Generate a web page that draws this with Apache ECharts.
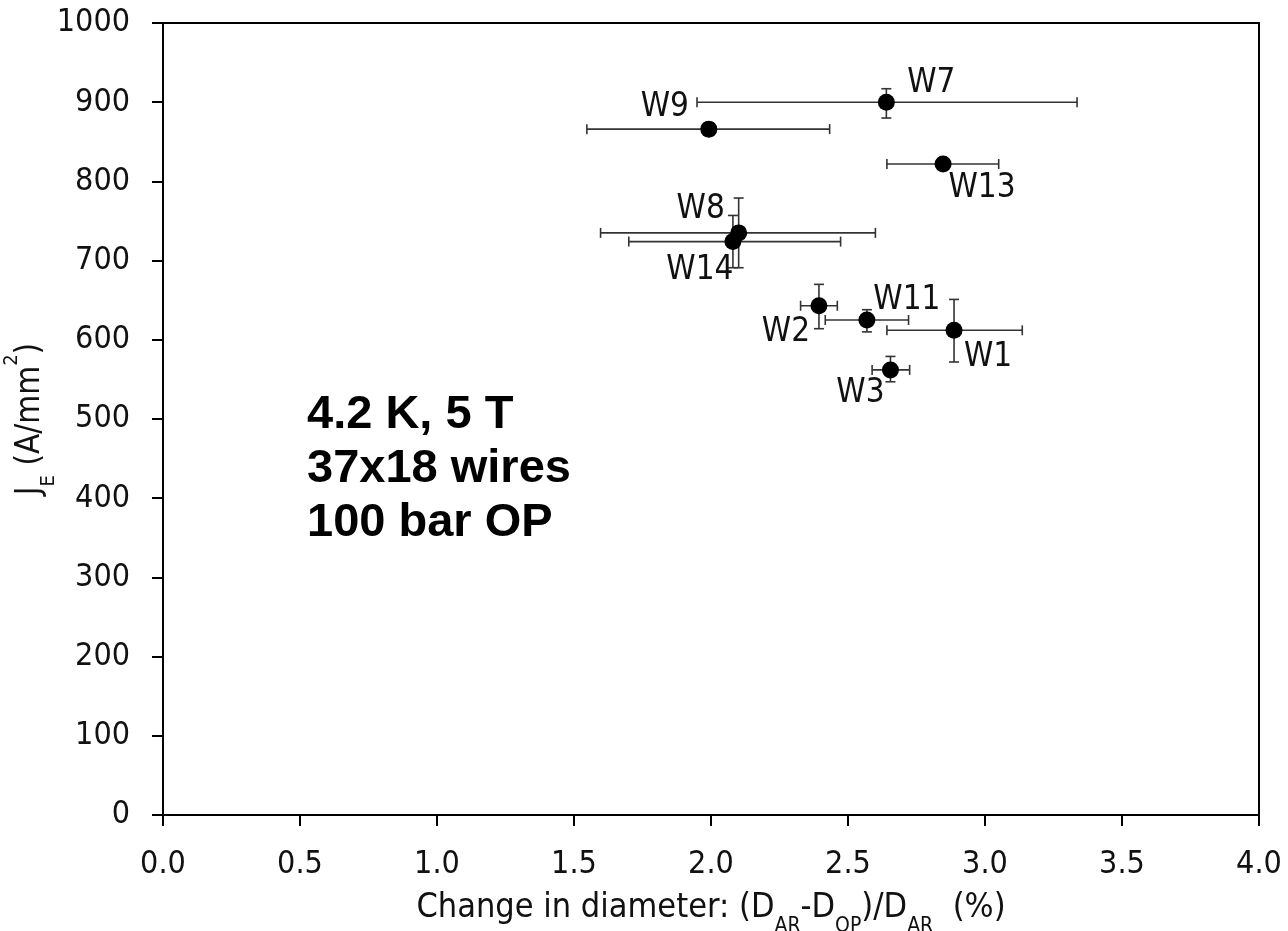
<!DOCTYPE html>
<html>
<head>
<meta charset="utf-8">
<script src="https://cdn.jsdelivr.net/npm/echarts@6/dist/echarts.min.js"></script>
<style>
  html, body { margin: 0; padding: 0; background: #fff; }
  #chart { width: 1288px; height: 931px; }
</style>
</head>
<body>
<div id="chart"></div>
<script>
// wire samples
const names = ['W1', 'W2', 'W3', 'W7', 'W8', 'W9', 'W11', 'W13', 'W14'];
// change in diameter (%)
const dia = [2.887, 2.394, 2.655, 2.640, 2.101, 1.992, 2.569, 2.847, 2.080];
const diaLow = [2.642, 2.327, 2.588, 1.949, 1.597, 1.547, 2.417, 2.642, 1.700];
const diaHigh = [3.136, 2.461, 2.725, 3.336, 2.600, 2.433, 2.721, 3.050, 2.473];
// JE (A/mm2)
const je = [612, 643, 562, 900, 735, 866, 625, 822, 724];
const jeLow = [572, 614, 547, 880, 691, 858, 610, 818, 691];
const jeHigh = [651, 670, 579, 917, 779, 874, 638, 826, 757];

const xTicks = [0, 0.5, 1, 1.5, 2, 2.5, 3, 3.5, 4];
const yTicks = [0, 100, 200, 300, 400, 500, 600, 700, 800, 900, 1000];

// label offsets from marker centre (px)
const labelOffsets = {
  W1: [34, 27], W2: [-33, 27], W3: [-30, 24], W7: [45, -19], W8: [-38, -23],
  W9: [-44, -22], W11: [40, -20], W13: [39, 24], W14: [-33, 29],
};

const FONT = '"DejaVu Sans Condensed", "DejaVu Sans", sans-serif';
const chart = echarts.init(document.getElementById('chart'));

const rows = names.map((n, i) => [dia[i], je[i], diaLow[i], diaHigh[i], jeLow[i], jeHigh[i], n]);

function renderErr(params, api) {
  const x = api.value(0), y = api.value(1);
  const c = api.coord([x, y]);
  const l = api.coord([api.value(2), y]);
  const r = api.coord([api.value(3), y]);
  const b = api.coord([x, api.value(4)]);
  const t = api.coord([x, api.value(5)]);
  const cap = 5;
  const style = { stroke: '#333', lineWidth: 1.6 };
  const seg = (x1, y1, x2, y2) => ({ type: 'line', shape: { x1, y1, x2, y2 }, style });
  return {
    type: 'group',
    children: [
      seg(l[0], c[1], r[0], c[1]),
      seg(l[0], c[1] - cap, l[0], c[1] + cap),
      seg(r[0], c[1] - cap, r[0], c[1] + cap),
      seg(c[0], b[1], c[0], t[1]),
      seg(c[0] - cap, b[1], c[0] + cap, b[1]),
      seg(c[0] - cap, t[1], c[0] + cap, t[1]),
    ],
  };
}

chart.setOption({
  animation: false,
  grid: {
    left: 163, right: 29, top: 23, bottom: 116,
    containLabel: false, outerBoundsMode: 'none',
    show: true, borderColor: '#000', borderWidth: 2,
  },
  xAxis: {
    type: 'value', min: xTicks[0], max: xTicks[xTicks.length - 1], interval: 0.5,
    axisLine: { lineStyle: { color: '#000', width: 2 } },
    axisTick: { show: true, length: 11, lineStyle: { color: '#000', width: 2 } },
    axisLabel: {
      color: '#111', fontFamily: FONT, fontSize: 32, margin: 34,
      formatter: (v) => v.toFixed(1),
    },
    splitLine: { show: false },
    name: '{n|Change in diameter: (D}{s|AR}{n|-D}{s|OP}{n|)/D}{s|AR}{n|  (%)}',
    nameLocation: 'middle', nameGap: 76, nameMoveOverlap: false,
    nameTextStyle: {
      rich: {
        n: { fontFamily: FONT, fontSize: 34, color: '#111' },
        s: { fontFamily: FONT, fontSize: 21, color: '#111', verticalAlign: 'bottom', padding: [0, 0, -12, 0] },
      },
    },
  },
  yAxis: {
    type: 'value', min: yTicks[0], max: yTicks[yTicks.length - 1], interval: 100,
    axisLine: { lineStyle: { color: '#000', width: 2 } },
    axisTick: { show: true, length: 11, lineStyle: { color: '#000', width: 2 } },
    axisLabel: { color: '#111', fontFamily: FONT, fontSize: 32, margin: 33, formatter: (v) => String(v) },
    splitLine: { show: false },
    name: '{n|J}{s|E}{n| (A/mm}{p|2}{n|)}',
    nameLocation: 'middle', nameGap: 116, nameRotate: 90, nameMoveOverlap: false,
    nameTextStyle: {
      rich: {
        n: { fontFamily: FONT, fontSize: 33, color: '#111' },
        s: { fontFamily: FONT, fontSize: 20, color: '#111', verticalAlign: 'bottom', padding: [0, 0, -12, 0] },
        p: { fontFamily: FONT, fontSize: 20, color: '#111', verticalAlign: 'top', padding: [-12, 0, 0, 0] },
      },
    },
  },
  series: [
    {
      type: 'custom',
      renderItem: renderErr,
      data: rows,
      z: 2,
      silent: true,
    },
    {
      type: 'scatter',
      symbol: 'circle',
      symbolSize: 17,
      itemStyle: { color: '#000', opacity: 1 },
      z: 3,
      data: rows.map((r) => ({
        value: [r[0], r[1]],
        name: r[6],
        label: {
          show: true,
          position: 'inside',
          offset: labelOffsets[r[6]],
          formatter: r[6],
          color: '#111',
          fontFamily: FONT,
          fontSize: 33,
        },
      })),
    },
  ],
  graphic: [
    {
      type: 'text',
      left: 307,
      top: 388,
      style: {
        text: '4.2 K, 5 T\n37x18 wires\n100 bar OP',
        fontFamily: '"Liberation Sans", Arial, sans-serif',
        fontWeight: 'bold',
        fontSize: 47,
        lineHeight: 54,
        fill: '#000',
      },
    },
  ],
});
</script>
</body>
</html>
